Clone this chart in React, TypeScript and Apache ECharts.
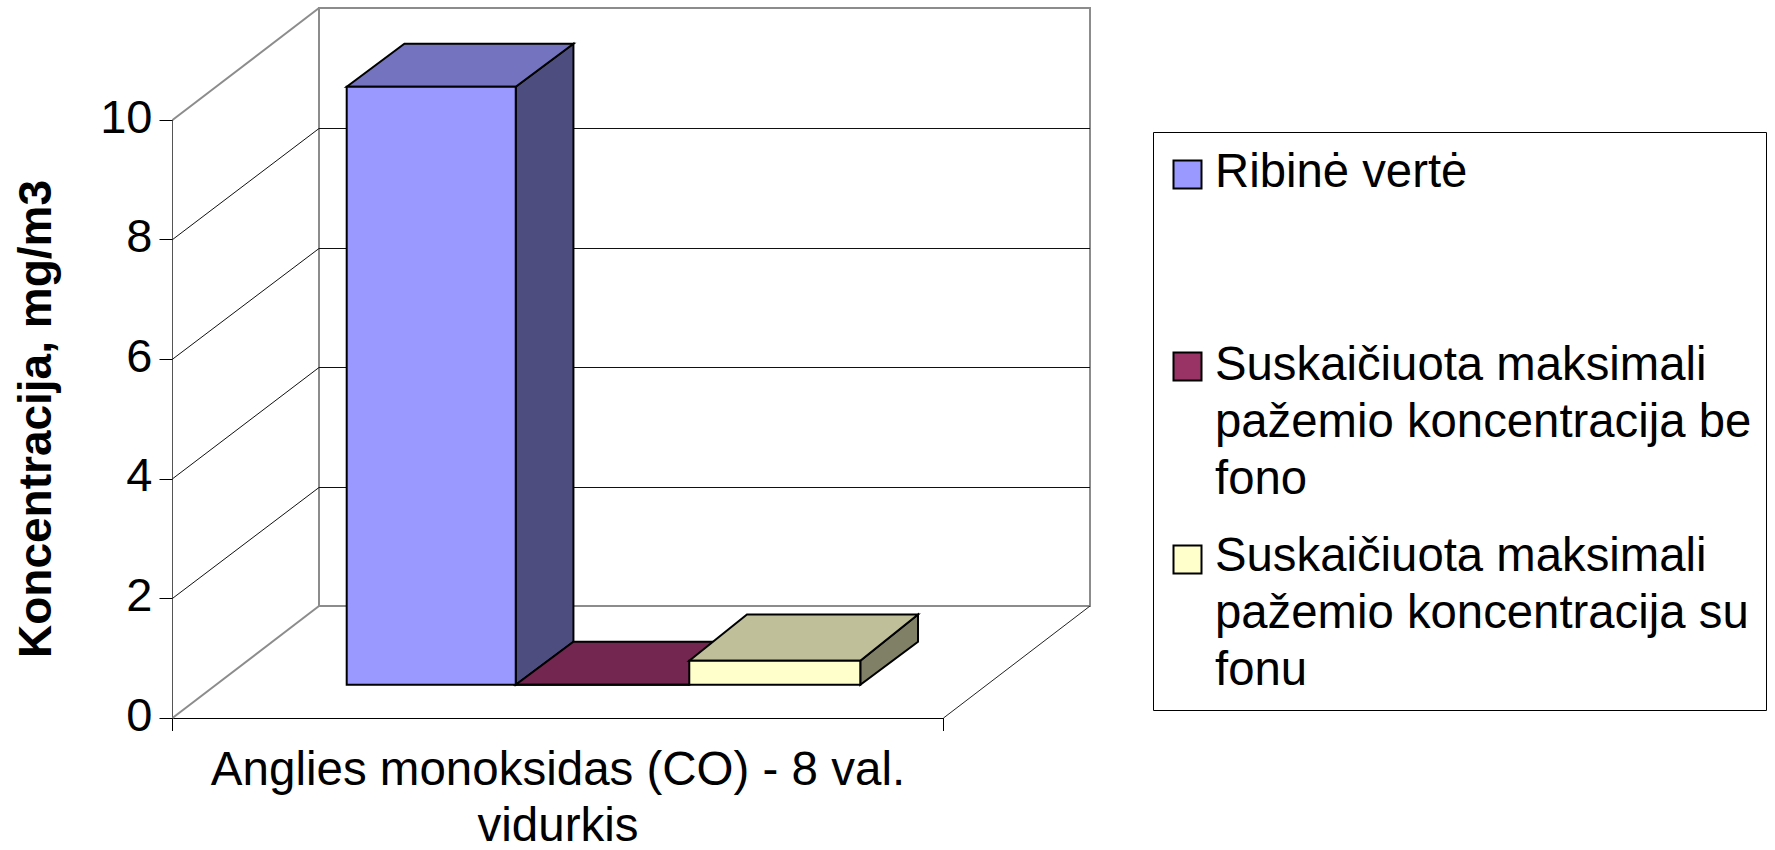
import React, { useEffect, useRef } from "react";
import * as echarts from "echarts";

const categories = ["Anglies monoksidas (CO) - 8 val.\nvidurkis"];
const yTicks = [0, 2, 4, 6, 8, 10];
const limitValue = [10];
const withoutBackground = [0];
const withBackground = [0.4];
const seriesNames = [
  "Ribinė vertė",
  "Suskaičiuota maksimali pažemio koncentracija be fono",
  "Suskaičiuota maksimali pažemio koncentracija su fonu",
];
const legendLines = [
  "Ribinė vertė",
  "Suskaičiuota maksimali\npažemio koncentracija be\nfono",
  "Suskaičiuota maksimali\npažemio koncentracija su\nfonu",
];
const faceColors = [
  { front: "#9999FF", top: "#7373BF", side: "#4D4D80" },
  { front: "#993366", top: "#732650", side: "#4D1A33" },
  { front: "#FFFFCC", top: "#BFBF99", side: "#808066" },
];

const FONT = '"Liberation Sans", Arial, sans-serif';
const DEPTH_X = 146.6;
const DEPTH_Y = 111.5;
const BAR_DEPTH_X = 57.7;
const BAR_DEPTH_Y = 43;
const BAR_OFFSET_X = 44.7;
const BAR_OFFSET_Y = 33.3;
const EDGE_NUDGE = [1, -1.3, 0.9, 0.6];
const TOP_BACK_EXTRA = [0, 0, 3.3];

function poly(points: number[][], fill: string) {
  return {
    type: "polygon",
    shape: { points },
    style: { fill, stroke: "#000", lineWidth: 2, lineJoin: "miter" },
  };
}

function renderBar(seriesIndex: number) {
  return (_p: any, api: any) => {
    const base = api.coord([0, 0]);
    const top = api.coord([0, api.value(1)]);
    const band = api.size([1, 0])[0];
    const w = band / (seriesNames.length + 1.5);
    const start = base[0] - band / 2 + BAR_OFFSET_X + 0.75 * w + seriesIndex * w;
    const x0 = start + EDGE_NUDGE[seriesIndex];
    const x1 = start + w + EDGE_NUDGE[seriesIndex + 1];
    const yB = base[1] - BAR_OFFSET_Y;
    const yT = top[1] - BAR_OFFSET_Y;
    const c = faceColors[seriesIndex];
    const dx = BAR_DEPTH_X;
    const dy = BAR_DEPTH_Y;
    const yTB = yT - dy - TOP_BACK_EXTRA[seriesIndex];
    return {
      type: "group",
      children: [
        poly([[x1, yT], [x1 + dx, yTB], [x1 + dx, yB - dy], [x1, yB]], c.side),
        poly([[x0, yT], [x0 + dx, yTB], [x1 + dx, yTB], [x1, yT]], c.top),
        poly([[x0, yT], [x1, yT], [x1, yB], [x0, yB]], c.front),
      ],
    };
  };
}

function renderWall(_p: any, api: any) {
  const v = api.value(1);
  const pt = api.coord([0, v]);
  const zero = api.coord([0, 0]);
  const max = api.coord([0, yTicks[yTicks.length - 1]]);
  const band = api.size([1, 0])[0];
  const x = zero[0] - band / 2;
  const edge = v === 0 || v === yTicks[yTicks.length - 1];
  const stroke = edge ? "#8c8c8c" : "#111";
  const lw = edge ? 2 : 1;
  const backY = edge ? Math.round(pt[1] - DEPTH_Y - 0.7) : Math.round(pt[1] - DEPTH_Y) + 0.5;
  const yBack0 = Math.round(zero[1] - DEPTH_Y - 0.7);
  const yBackMax = Math.round(max[1] - DEPTH_Y - 0.7);
  const xBack = Math.round(x + DEPTH_X);
  const line = (x1: number, y1: number, x2: number, y2: number, s = stroke, l = lw) => ({
    type: "line",
    shape: { x1, y1, x2, y2 },
    style: { stroke: s, lineWidth: l, fill: "none" },
  });
  const children: any[] = [
    line(x, pt[1], xBack, backY),
    line(xBack, backY, xBack + band, backY),
  ];
  if (v === 0) {
    children.push(
      line(xBack, yBack0 + 1, xBack, yBackMax - 1, "#8c8c8c", 2),
      line(xBack + band, yBack0 + 1, xBack + band, yBackMax - 1, "#8c8c8c", 2),
      line(x + band, zero[1], xBack + band, yBack0, "#222", 1)
    );
  }
  return { type: "group", children };
}

function legendGraphic() {
  const swatchY = [160, 352, 545];
  const textY = [142, 335, 526];
  const out: any[] = [
    {
      type: "rect",
      shape: { x: 1153.5, y: 132.5, width: 613, height: 578 },
      style: { fill: "#fff", stroke: "#000", lineWidth: 1 },
    },
  ];
  legendLines.forEach((t, i) => {
    out.push({
      type: "rect",
      shape: { x: 1173.5, y: swatchY[i] + 0.5, width: 28, height: 28 },
      style: { fill: faceColors[i].front, stroke: "#000", lineWidth: 2 },
    });
    out.push({
      type: "text",
      x: 1215,
      y: textY[i],
      style: {
        text: t,
        font: `47.3px ${FONT}`,
        lineHeight: 57,
        fill: "#000",
        align: "left",
        verticalAlign: "top",
      },
    });
  });
  return out;
}

export default function App() {
  const ref = useRef<HTMLDivElement>(null);
  useEffect(() => {
    const chart = echarts.init(ref.current!, undefined, { renderer: "svg" });
    const values = [limitValue, withoutBackground, withBackground];
    chart.setOption({
      animation: false,
      backgroundColor: "#fff",
      grid: { left: 172.5, top: 120, width: 771, height: 598, containLabel: false, outerBoundsMode: "none" },
      xAxis: {
        type: "category",
        data: categories,
        axisLine: { show: true, lineStyle: { color: "#000", width: 1 } },
        axisTick: { show: true, length: 13, lineStyle: { color: "#000", width: 1 } },
        axisLabel: {
          color: "#000",
          fontFamily: FONT,
          fontSize: 47.5,
          lineHeight: 56,
          margin: 22,
          interval: 0,
        },
      },
      yAxis: {
        type: "value",
        min: 0,
        max: 10,
        interval: 2,
        name: "Koncentracija, mg/m3",
        nameLocation: "middle",
        nameRotate: 90,
        nameGap: 115,
        nameTextStyle: { color: "#000", fontFamily: FONT, fontSize: 46, fontWeight: "bold" },
        axisLine: { show: true, lineStyle: { color: "#555", width: 1 } },
        axisTick: { show: true, length: 13, lineStyle: { color: "#000", width: 1 } },
        axisLabel: {
          color: "#000",
          fontFamily: FONT,
          fontSize: 47,
          margin: 20,
          verticalAlign: "bottom",
          lineHeight: 8,
        },
        splitLine: { show: false },
      },
      series: [
        {
          type: "custom",
          name: "walls",
          renderItem: renderWall,
          data: yTicks.map((v) => [0, v]),
          encode: { x: 0, y: 1 },
          silent: true,
          z: 1,
        },
        ...seriesNames.map((name, i) => ({
          type: "custom",
          name,
          renderItem: renderBar(i),
          data: values[i].map((v, k) => [k, v]),
          encode: { x: 0, y: 1 },
          z: 2 + i,
        })),
      ],
      graphic: legendGraphic(),
    });
    return () => chart.dispose();
  }, []);
  return (
    <div
      ref={ref}
      style={{ position: "fixed", left: 0, top: 0, width: 1775, height: 850, overflow: "hidden", background: "#fff" }}
    />
  );
}
